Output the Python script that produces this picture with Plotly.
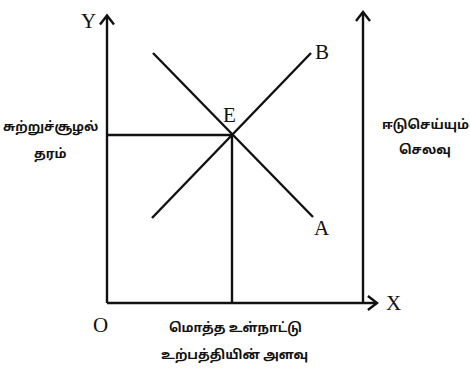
import plotly.graph_objects as go

# Data (conceptual units, origin O at (0,0))
axis_x_end = 10.8
axis_y_top = 11.5
right_axis_x = 10.24
right_axis_top = 11.64
E = (5.0, 6.72)
line_A = {"x": [1.84, 8.24], "y": [10.0, 3.44]}   # decreasing line ending at A
line_B = {"x": [1.8, 8.16], "y": [3.4, 10.0]}     # increasing line ending at B
left_label = ["சுற்றுச்சூழல்", "தரம்"]
right_label = ["ஈடுசெய்யும்", "செலவு"]
bottom_label = ["மொத்த உள்நாட்டு", "உற்பத்தியின் அளவு"]

LW = 2.4
C = "#111"
fig = go.Figure()

def seg(xs, ys):
    fig.add_trace(go.Scatter(x=xs, y=ys, mode="lines",
                             line=dict(color=C, width=LW), hoverinfo="skip",
                             showlegend=False))

# axes
seg([0, 0], [0, axis_y_top])
seg([0, axis_x_end], [0, 0])
seg([right_axis_x, right_axis_x], [0, right_axis_top])
# arrow chevrons
h = 0.28
seg([-h, 0, h], [axis_y_top - 1.3*h, axis_y_top, axis_y_top - 1.3*h])
seg([right_axis_x - h, right_axis_x, right_axis_x + h],
    [right_axis_top - 1.3*h, right_axis_top, right_axis_top - 1.3*h])
seg([axis_x_end - 1.3*h, axis_x_end, axis_x_end - 1.3*h], [h, 0, -h])
# lines
seg(line_A["x"], line_A["y"])
seg(line_B["x"], line_B["y"])
# equilibrium guides
seg([0, E[0]], [E[1], E[1]])
seg([E[0], E[0]], [E[1], 0])

serif = "Liberation Serif, Times New Roman, serif"
def txt(x, y, s, size=21, font=serif):
    fig.add_annotation(x=x, y=y, text=s, showarrow=False,
                       font=dict(family=font, size=size, color=C))

txt(-0.75, 11.3, "Y")
txt(11.44, 0.0, "X")
txt(-0.28, -0.88, "O")
txt(E[0] - 0.1, E[1] + 0.8, "E")
txt(line_A["x"][1] + 0.35, line_A["y"][1] - 0.45, "A")
txt(line_B["x"][1] + 0.45, line_B["y"][1] + 0.05, "B")

tam = "Noto Sans Tamil, Lohit Tamil, Latha, Noto Sans, sans-serif"
sz = 12.8
txt(-2.28, 7.0, "<b>" + left_label[0] + "</b>", sz, tam)
txt(-2.28, 5.92, "<b>" + left_label[1] + "</b>", sz, tam)
txt(12.74, 7.12, "<b>" + right_label[0] + "</b>", sz, tam)
txt(12.7, 6.12, "<b>" + right_label[1] + "</b>", sz, tam)
txt(5.12, -1.0, "<b>" + bottom_label[0] + "</b>", sz, tam)
txt(5.1, -2.08, "<b>" + bottom_label[1] + "</b>", sz, tam)

fig.update_layout(width=470, height=370, margin=dict(l=0, r=0, t=0, b=0),
                  paper_bgcolor="white", plot_bgcolor="white")
fig.update_xaxes(range=[-4.28, 14.52], visible=False)
fig.update_yaxes(range=[-2.68, 12.12], visible=False)
fig.write_html("out.html", config={"displayModeBar": False},
               post_script="document.body.style.margin='0px';"
                           "document.body.style.overflow='hidden';")
